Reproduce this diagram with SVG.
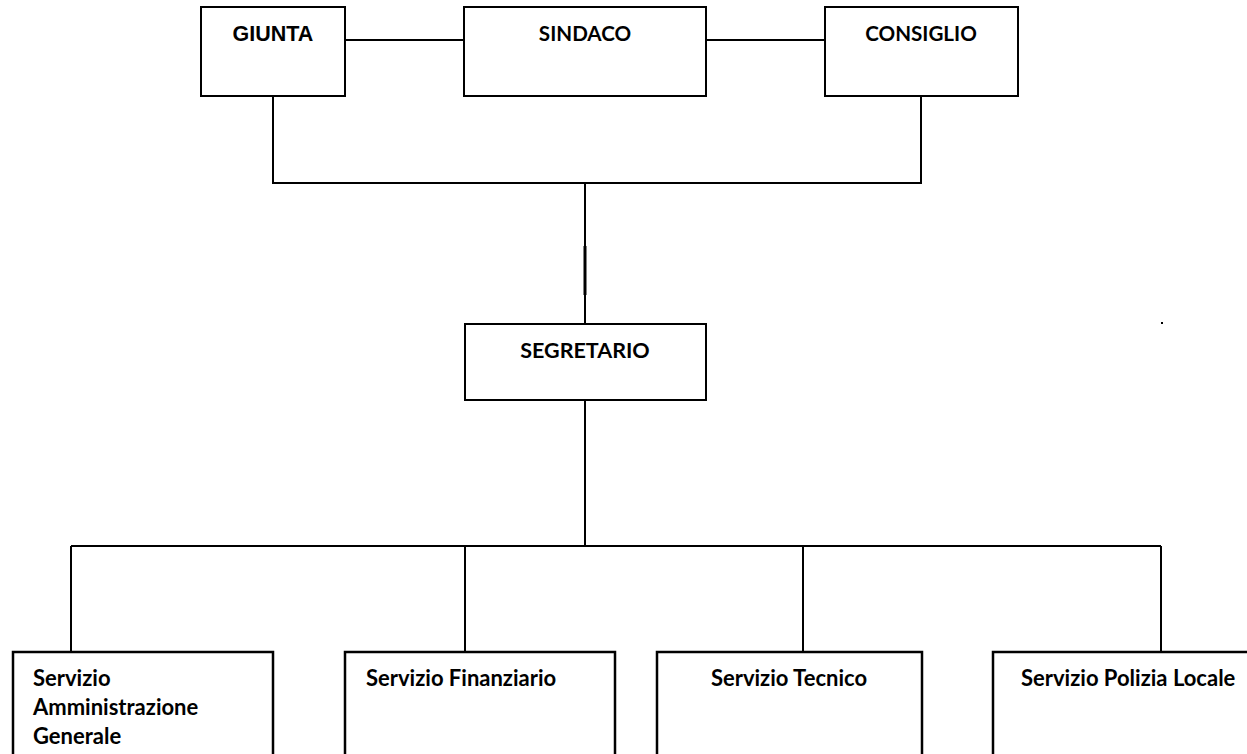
<svg xmlns="http://www.w3.org/2000/svg" width="1247" height="754" viewBox="0 0 1247 754">
<style>
.box{fill:#fff;stroke:#000;stroke-width:2}
.bbox{fill:#fff;stroke:#000;stroke-width:2.5}
.ln{fill:none;stroke:#000;stroke-width:2}
.t{font-family:Lato,"Open Sans",sans-serif;font-weight:bold;font-size:22px;fill:#000}
.tc{font-family:Lato,"Open Sans",sans-serif;font-weight:bold;font-size:20.6px;fill:#000}
.ta{font-family:"Liberation Sans",Arial,sans-serif;font-weight:bold;font-size:21.5px;fill:#000}
.c{text-anchor:middle}
</style>
<rect width="1247" height="754" fill="#fff"/>
<g id="connectors">
<line class="ln" x1="345" y1="40" x2="464" y2="40"/>
<line class="ln" x1="706" y1="40" x2="825" y2="40"/>
<polyline class="ln" points="273,96 273,183 921,183 921,96"/>
<line class="ln" x1="585" y1="183" x2="585" y2="324"/>
<line x1="585" y1="246" x2="585" y2="295" stroke="#000" stroke-width="3"/>
<line class="ln" x1="585" y1="400" x2="585" y2="546"/>
<line class="ln" x1="71" y1="546" x2="1161" y2="546"/>
<line class="ln" x1="71" y1="546" x2="71" y2="652"/>
<line class="ln" x1="465" y1="546" x2="465" y2="652"/>
<line class="ln" x1="803" y1="546" x2="803" y2="652"/>
<line class="ln" x1="1161" y1="546" x2="1161" y2="652"/>
</g>
<g id="giunta">
<rect class="box" x="201" y="7" width="144" height="89"/>
<text class="ta c" x="273" y="41">GIUNTA</text>
</g>
<g id="sindaco">
<rect class="box" x="464" y="7" width="242" height="89"/>
<text class="tc c" x="585" y="41">SINDACO</text>
</g>
<g id="consiglio">
<rect class="box" x="825" y="7" width="193" height="89"/>
<text class="tc c" x="921" y="41">CONSIGLIO</text>
</g>
<g id="segretario">
<rect class="box" x="465" y="324" width="241" height="76"/>
<text class="tc c" x="585" y="358" style="font-size:21.5px">SEGRETARIO</text>
</g>
<g id="servizio-amministrazione">
<rect class="bbox" x="13" y="652" width="260" height="120"/>
<text class="t" x="33" y="686">Servizio</text>
<text class="t" x="33" y="715">Amministrazione</text>
<text class="t" x="33" y="744">Generale</text>
</g>
<g id="servizio-finanziario">
<rect class="bbox" x="345" y="652" width="270" height="120"/>
<text class="t" x="366" y="686">Servizio Finanziario</text>
</g>
<g id="servizio-tecnico">
<rect class="bbox" x="657" y="652" width="265" height="120"/>
<text class="t c" x="789" y="686">Servizio Tecnico</text>
</g>
<g id="servizio-polizia">
<rect class="bbox" x="993" y="652" width="280" height="120"/>
<text class="t" x="1021" y="686">Servizio Polizia Locale</text>
</g>
<rect x="1161" y="322" width="2" height="2" fill="#000"/>
</svg>
